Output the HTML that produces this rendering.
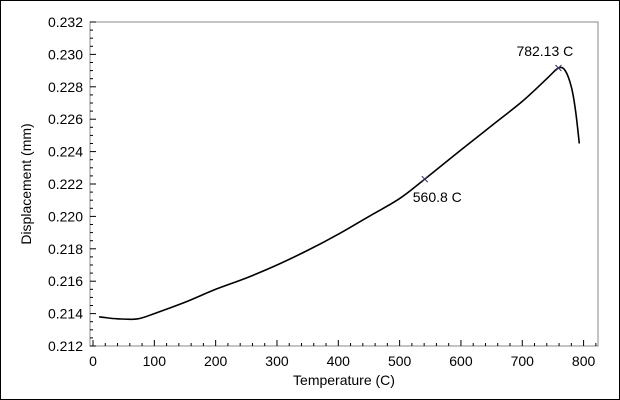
<!DOCTYPE html>
<html><head><meta charset="utf-8"><style>
body{margin:0;background:#fff}
svg{display:block;font-family:"Liberation Sans",sans-serif}
</style></head><body>
<svg id="c" width="620" height="400">
<rect x="0.5" y="0.5" width="619" height="399" fill="#fff" stroke="#000"/>
</svg>
<script>
const temps=[10,20,40,72,100,150,200,250,300,350,400,450,500,541,600,650,700,740,759,770,780,787,793];
const disp=[0.2138,0.21375,0.21368,0.21367,0.2140,0.2147,0.2155,0.2162,0.2170,0.2179,0.2189,0.2200,0.2211,0.2223,0.2241,0.2256,0.2271,0.2285,0.22916,0.2290,0.2280,0.2265,0.2245];
const xTicks=[0,100,200,300,400,500,600,700,800];
const yTicks=[0.212,0.214,0.216,0.218,0.220,0.222,0.224,0.226,0.228,0.230,0.232];
const markers=[{t:541,v:0.2223,label:"560.8 C",dx:-12,dy:23},{t:759,v:0.22916,label:"782.13 C",dx:-42,dy:-12}];
const L=90,R=598,T=22,B=346,X0=-4.9,X1=823.5,Y0=0.212,Y1=0.232;
const sx=t=>L+(t-X0)/(X1-X0)*(R-L), sy=v=>B-(v-Y0)/(Y1-Y0)*(B-T);
const svg=document.getElementById('c'),NS='http://www.w3.org/2000/svg';
function mk(tag,a,p){const e=document.createElementNS(NS,tag);for(const k in a)e.setAttribute(k,a[k]);(p||svg).appendChild(e);return e;}
const fr=mk('rect',{x:L,y:T,width:R-L,height:B-T,fill:'none',stroke:'#888'});


for(let t=0;t<=820;t+=20){const maj=t%100===0;const e=mk('line',{x1:sx(t),x2:sx(t),y1:B,y2:B-(maj?6:3),stroke:'#000'});

}
xTicks.forEach(t=>{const e=mk('text',{x:sx(t),y:B+20,'text-anchor':'middle','font-size':14,fill:'#000'});e.textContent=t;

});
for(let i=0;i<=40;i++){const v=Y0+i*0.0005;const maj=i%4===0;const e=mk('line',{x1:L,x2:L+(maj?6:3),y1:sy(v),y2:sy(v),stroke:'#000'});

}
yTicks.forEach(v=>{const e=mk('text',{x:L-7,y:sy(v)+5,'text-anchor':'end','font-size':14,fill:'#000'});e.textContent=v.toFixed(3);

});
const P=temps.map((t,i)=>[sx(t),sy(disp[i])]);
let d='M'+P[0][0].toFixed(1)+','+P[0][1].toFixed(1);
for(let i=0;i<P.length-1;i++){const p0=P[Math.max(0,i-1)],p1=P[i],p2=P[i+1],p3=P[Math.min(P.length-1,i+2)];
const c1=[p1[0]+(p2[0]-p0[0])/6,p1[1]+(p2[1]-p0[1])/6],c2=[p2[0]-(p3[0]-p1[0])/6,p2[1]-(p3[1]-p1[1])/6];
d+=`C${c1[0].toFixed(1)},${c1[1].toFixed(1)} ${c2[0].toFixed(1)},${c2[1].toFixed(1)} ${p2[0].toFixed(1)},${p2[1].toFixed(1)}`;}
const ln=mk('path',{d:d,fill:'none',stroke:'#000','stroke-width':1.6,'stroke-linejoin':'round'});


markers.forEach(m=>{const x=sx(m.t),y=sy(m.v);
const g=mk('path',{d:`M${x-3},${y-3}L${x+3},${y+3}M${x-3},${y+3}L${x+3},${y-3}`,stroke:'#336',fill:'none'});


const tx=mk('text',{x:x+m.dx,y:y+m.dy,'font-size':14,fill:'#000'});tx.textContent=m.label;

});
const xt=mk('text',{x:344,y:385,'text-anchor':'middle','font-size':14});xt.textContent='Temperature (C)';


const yt=mk('text',{x:31,y:184,'text-anchor':'middle','font-size':14,transform:'rotate(-90 31 184)'});yt.textContent='Displacement (mm)';


</script>
</body></html>
